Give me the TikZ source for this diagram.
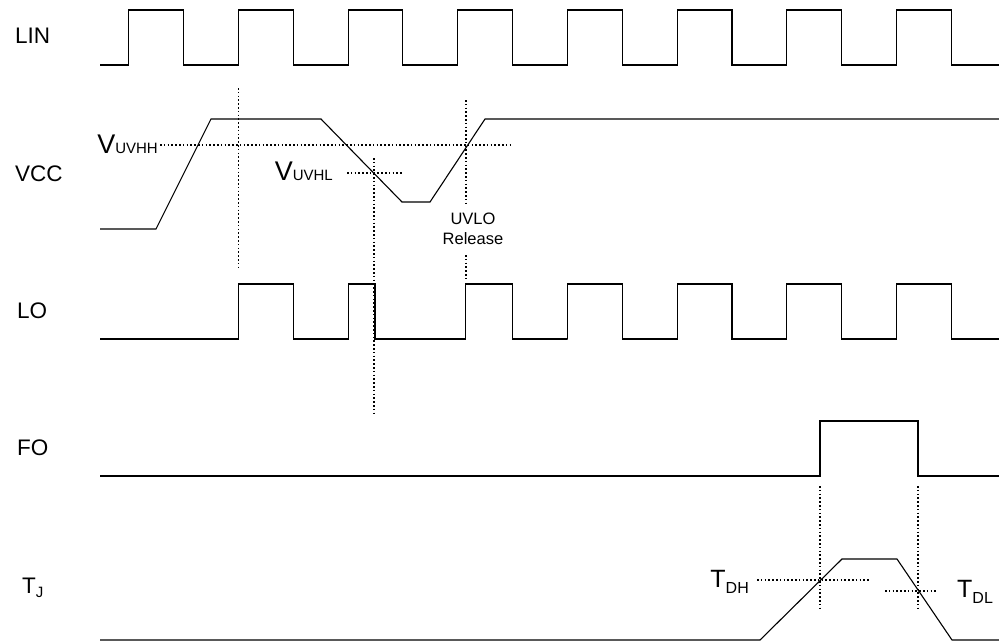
\documentclass[tikz,border=0pt]{standalone}
\usepackage{fontspec}
\setmainfont{Liberation Sans}

\begin{document}
\begin{tikzpicture}[
  x=1pt, y=-1pt,
  wave/.style={line width=1.1pt, line join=miter},
  guide/.style={line width=1.4pt, dash pattern=on 1.6pt off 2.2pt},
  sig/.style={anchor=base west, inner sep=0pt, font=\fontsize{22.5}{26}\selectfont},
  lvl/.style={inner sep=0pt, font=\fontsize{27}{30}\selectfont},
  note/.style={inner sep=0pt, align=center, font=\fontsize{16.5}{20}\selectfont}]
  \useasboundingbox (0,0) rectangle (999,641);
  % signal names
  \node[sig] (lin) at (15,43) {LIN};
  \node[sig] (vcc) at (15,181) {VCC};
  \node[sig] (lo) at (17,318) {LO};
  \node[sig] (fo) at (17,455) {FO};
  \node[sig] (tj) at (22,593) {T\raisebox{-4pt}{\fontsize{15}{17}\selectfont J}};
  % LIN
  \draw[wave] (100,65) \foreach \k in {0,...,7} {
      -- ({128.7+109.7*\k},65) -- ++(0,-55) -- ++(54.8,0) -- ++(0,55)} -- (999,65);
  % VCC
  \draw[wave] (100,229) -- (156,229) -- (211,119) -- (321,119) -- (402,202)
      -- (430,202) -- (485,119) -- (999,119);
  % LO
  \draw[wave] (100,339) -- (238.4,339) |- (293.3,284) |- (348.3,339) |- (375,284)
      |- (465.7,339) |- (512.3,284) |- (567.5,339)
      \foreach \k in {4,...,7} {
      -- ({128.7+109.7*\k},339) -- ++(0,-55) -- ++(54.8,0) -- ++(0,55)} -- (999,339);
  % FO
  \draw[wave] (100,476) -- (820,476) |- (918,421) |- (999,476);
  % TJ
  \draw[wave] (100,640) -- (760,640) -- (842,559) -- (897,559) -- (952,640) -- (999,640);
  % thresholds and markers
  \draw[guide] (160,145) -- (513,145);
  \draw[guide] (347,173) -- (402,173);
  \draw[guide] (238.4,88) -- (238.4,268);
  \draw[guide] (374,158) -- (374,413);
  \draw[guide] (466,100) -- (466,203);
  \draw[guide] (466,255) -- (466,278);
  \draw[guide] (757,580) -- (870,580);
  \draw[guide] (885,591) -- (938,591);
  \draw[guide] (820,486) -- (820,611);
  \draw[guide] (918,486) -- (918,611);
  \node[lvl, anchor=base east] (vuvhh) at (158,153) {V{\fontsize{15}{17}\selectfont UVHH}};
  \node[lvl, anchor=base east] (vuvhl) at (333,180) {V{\fontsize{15}{17}\selectfont UVHL}};
  \node[note] (uvlo) at (473,229) {UVLO\\Release};
  \node[lvl, anchor=base east, font=\fontsize{25}{28}\selectfont] (tdh) at (749,587)
      {T\raisebox{-6pt}{\fontsize{16}{18}\selectfont DH}};
  \node[lvl, anchor=base west, font=\fontsize{25}{28}\selectfont] (tdl) at (957,597)
      {T\raisebox{-6pt}{\fontsize{16}{18}\selectfont DL}};
\end{tikzpicture}
\end{document}
